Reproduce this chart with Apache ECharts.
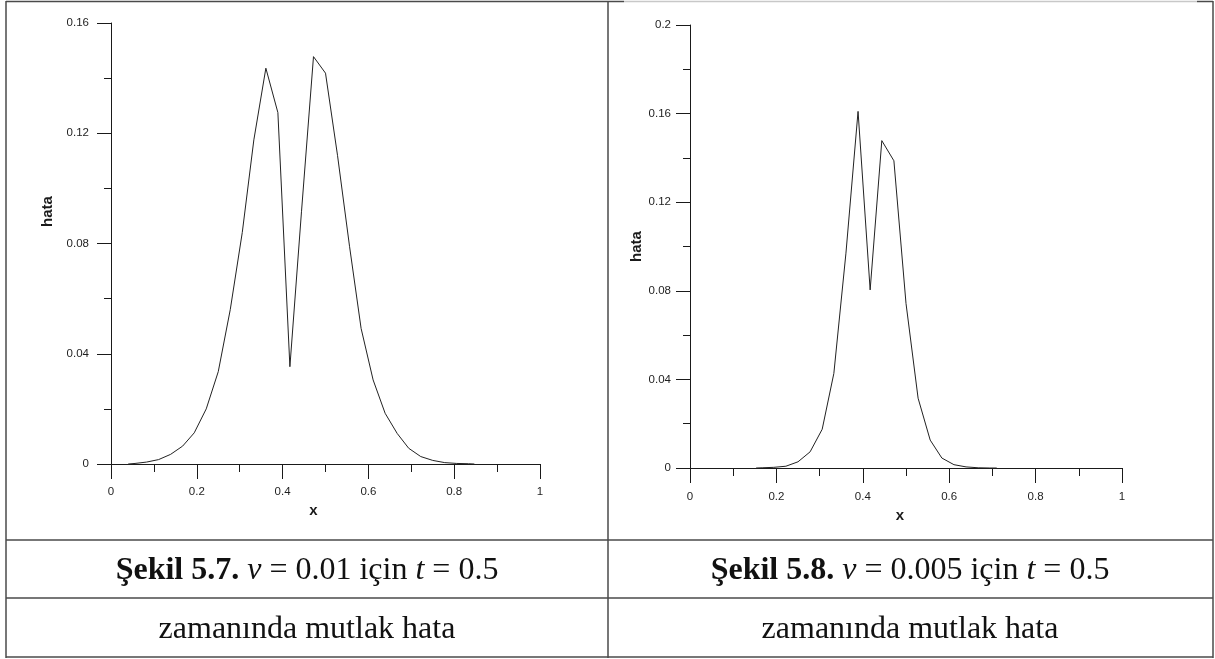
<!DOCTYPE html>
<html>
<head>
<meta charset="utf-8">
<script src="https://cdn.jsdelivr.net/npm/echarts@6/dist/echarts.min.js"></script>
<style>
  html, body { margin: 0; padding: 0; background: #fff; }
  #chart { width: 1215px; height: 659px; }
</style>
</head>
<body>
<div id="chart"></div>
<script>
// Absolute error profiles at t = 0.5 (x positions and error values)
const xLeft = [0.04, 0.056, 0.083, 0.111, 0.139, 0.167, 0.194, 0.222, 0.25, 0.278, 0.306, 0.333,
  0.361, 0.389, 0.417, 0.444, 0.472, 0.5, 0.528, 0.556, 0.583, 0.611, 0.639, 0.667, 0.694,
  0.722, 0.75, 0.778, 0.806, 0.833, 0.847];
const errLeft = [0, 0.0002, 0.0007, 0.0016, 0.0035, 0.0065, 0.0113, 0.020, 0.0335, 0.056, 0.084, 0.1176,
  0.1436, 0.1275, 0.0353, 0.0915, 0.1478, 0.1418, 0.112, 0.079, 0.0492, 0.0305, 0.0184, 0.0111, 0.0057,
  0.0027, 0.0013, 0.0005, 0.0002, 0.0001, 0];

const xRight = [0.153, 0.167, 0.194, 0.222, 0.25, 0.278, 0.306, 0.333, 0.361, 0.389, 0.417, 0.444,
  0.472, 0.5, 0.528, 0.556, 0.583, 0.611, 0.639, 0.667, 0.694, 0.71];
const errRight = [0, 0.0001, 0.0003, 0.0008, 0.0028, 0.0073, 0.0175, 0.0427, 0.097, 0.161, 0.0804, 0.1478,
  0.1387, 0.0743, 0.0315, 0.0126, 0.0045, 0.0015, 0.0005, 0.0001, 0, 0];

const yMaxLeft = 0.16;
const yMaxRight = 0.2;
const yStep = 0.04;
const xStep = 0.2;

const captionTitles = [
  { fig: 'Şekil 5.7.', nu: '0.01', t: '0.5' },
  { fig: 'Şekil 5.8.', nu: '0.005', t: '0.5' }
];
const captionSub = 'zamanında mutlak hata';

const pairs = (xs, ys) => xs.map((x, i) => [x, ys[i]]);

const ink = '#1a1a1a';
const labelFont = 'Liberation Sans, Arial, sans-serif';

function xAxisFor(gridIndex, labelMargin, namePad, nameGap) {
  return {
    gridIndex, type: 'value', min: 0, max: 1, interval: xStep,
    name: 'x', nameLocation: 'middle', nameGap,
    nameTextStyle: { fontFamily: labelFont, fontWeight: 'bold', fontSize: 15, color: ink, padding: namePad },
    axisLine: { show: true, onZero: false, lineStyle: { color: ink, width: 1 } },
    axisTick: { show: true, length: 15, lineStyle: { color: ink, width: 1 } },
    minorTick: { show: true, splitNumber: 2, length: 8, lineStyle: { color: ink, width: 1 } },
    axisLabel: { margin: labelMargin, fontFamily: labelFont, fontSize: 11.5, color: '#1e1e1e' },
    splitLine: { show: false }, minorSplitLine: { show: false }
  };
}

function yAxisFor(gridIndex, max, labelMargin, nameGap, namePad) {
  return {
    gridIndex, type: 'value', min: 0, max, interval: yStep,
    name: 'hata', nameLocation: 'middle', nameGap, nameRotate: 90,
    nameTextStyle: { fontFamily: labelFont, fontWeight: 'bold', fontSize: 15, color: ink, padding: namePad },
    axisLine: { show: true, onZero: false, lineStyle: { color: ink, width: 1 } },
    axisTick: { show: true, length: 14, lineStyle: { color: ink, width: 1 } },
    minorTick: { show: true, splitNumber: 2, length: 7, lineStyle: { color: ink, width: 1 } },
    axisLabel: { margin: labelMargin, fontFamily: labelFont, fontSize: 11.5, color: '#1e1e1e' },
    splitLine: { show: false }, minorSplitLine: { show: false }
  };
}

// Caption text for the table rows
const serif = 'Liberation Serif, Times New Roman, serif';
const capSize = 32;
const rich = {
  b: { fontFamily: serif, fontWeight: 'bold', fontSize: capSize, fill: '#111' },
  i: { fontFamily: serif, fontStyle: 'italic', fontSize: capSize, fill: '#111' },
  r: { fontFamily: serif, fontSize: capSize, fill: '#111' }
};
function titleText(c) {
  return `{b|${c.fig} }{i|ν}{r| = ${c.nu} için }{i|t}{r| = ${c.t}}`;
}

const border = { stroke: '#4a4a4a', lineWidth: 1.5 };
const line = (x1, y1, x2, y2) => ({ type: 'line', silent: true, shape: { x1, y1, x2, y2 }, style: border });

const chart = echarts.init(document.getElementById('chart'), null, { renderer: 'canvas' });
chart.setOption({
  animation: false,
  backgroundColor: '#fff',
  grid: [
    { left: 111, top: 23, width: 429, height: 441 },
    { left: 690, top: 25, width: 432, height: 443 }
  ],
  xAxis: [
    xAxisFor(0, 22, [0, 24, 0, 0], 36),
    xAxisFor(1, 23, [0, 12, 0, 0], 33)
  ],
  yAxis: [
    yAxisFor(0, yMaxLeft, 22, 56, [0, 0, 0, 64]),
    yAxisFor(1, yMaxRight, 19, 44, [0, 0, 0, 0])
  ],
  series: [
    {
      type: 'line', xAxisIndex: 0, yAxisIndex: 0, data: pairs(xLeft, errLeft),
      showSymbol: false, lineStyle: { color: '#222', width: 1 }, clip: false
    },
    {
      type: 'line', xAxisIndex: 1, yAxisIndex: 1, data: pairs(xRight, errRight),
      showSymbol: false, lineStyle: { color: '#222', width: 1 }, clip: false
    }
  ],
  graphic: [
    // table frame
    line(6, 1.5, 608, 1.5),
    line(608, 1.5, 624, 1.5),
    line(1197, 1.5, 1213, 1.5),
    { type: 'line', silent: true, shape: { x1: 624, y1: 1.5, x2: 1197, y2: 1.5 }, style: { stroke: '#c8c8c8', lineWidth: 1.5 } },
    line(6, 1, 6, 658),
    line(1213, 1, 1213, 658),
    line(608, 1, 608, 658),
    line(6, 540, 1213, 540),
    line(6, 598, 1213, 598),
    line(6, 657, 1213, 657),
    // captions
    { type: 'text', silent: true, x: 307, y: 571, style: { text: titleText(captionTitles[0]), rich, align: 'center', verticalAlign: 'middle' } },
    { type: 'text', silent: true, x: 910, y: 571, style: { text: titleText(captionTitles[1]), rich, align: 'center', verticalAlign: 'middle' } },
    { type: 'text', silent: true, x: 307, y: 630, style: { text: captionSub, fontFamily: serif, fontSize: capSize, fill: '#111', align: 'center', verticalAlign: 'middle' } },
    { type: 'text', silent: true, x: 910, y: 630, style: { text: captionSub, fontFamily: serif, fontSize: capSize, fill: '#111', align: 'center', verticalAlign: 'middle' } }
  ]
});
</script>
</body>
</html>
